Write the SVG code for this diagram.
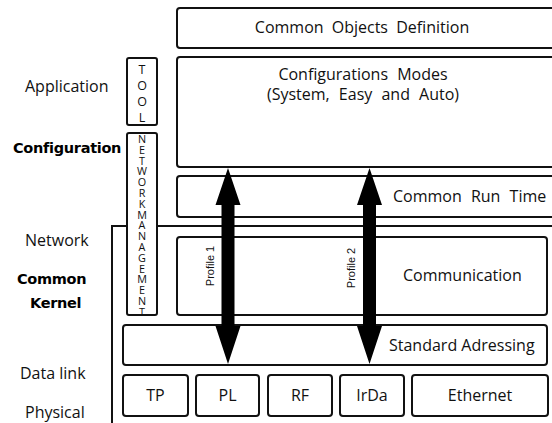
<svg xmlns="http://www.w3.org/2000/svg" width="552" height="423" viewBox="0 0 552 423">
<style>
.box{fill:#fff;stroke:#111;stroke-width:2}
.t{font-family:"Open Sans","Liberation Sans",sans-serif;font-size:16px;fill:#111}
.c{text-anchor:middle}
.b{font-family:"DejaVu Sans","Liberation Sans",sans-serif;font-weight:bold;font-size:14.5px;fill:#000;letter-spacing:-0.3px}
.v{font-family:"Open Sans","Liberation Sans",sans-serif;fill:#111;writing-mode:vertical-rl;text-orientation:upright}
.p{font-family:"Liberation Sans",Arial,sans-serif;font-size:11px;fill:#111;text-anchor:middle}
.arr{fill:#000}
</style>
<rect width="552" height="423" fill="#fff"/>
<g id="labels">
<text class="t" x="25" y="92">Application</text>
<text class="b" x="13" y="153">Configuration</text>
<text class="t" x="25" y="246">Network</text>
<text class="b" x="17" y="284">Common</text>
<text class="b" x="30" y="308">Kernel</text>
<text class="t" x="20" y="379">Data link</text>
<text class="t" x="25" y="418">Physical</text>
</g>
<g id="kernel-frame">
<path d="M112,423 V226 H127 M157,226 H560" fill="none" stroke="#111" stroke-width="2"/>
</g>
<g id="common-objects">
<rect class="box" x="177" y="8" width="390" height="40" rx="3"/>
<text class="t c" x="362" y="33" word-spacing="4">Common Objects Definition</text>
</g>
<g id="config-modes">
<rect class="box" x="177" y="57" width="390" height="110" rx="3"/>
<text class="t c" x="363" y="80" font-size="15" word-spacing="5">Configurations Modes</text>
<text class="t c" x="363" y="100" font-size="15" word-spacing="5">(System, Easy and Auto)</text>
</g>
<g id="common-run-time">
<rect class="box" x="177" y="176" width="390" height="41" rx="3"/>
<text class="t" x="393" y="202" word-spacing="5">Common Run Time</text>
</g>
<g id="tool">
<rect class="box" x="127" y="58" width="30" height="67" rx="2"/>
<text class="v" x="142" y="61" font-size="12.5" letter-spacing="-1">TOOL</text>
</g>
<g id="network-management">
<rect class="box" x="127" y="133" width="30" height="182" rx="2"/>
<text class="v" x="142" y="131" font-size="10.8" letter-spacing="-4.2">NETWORKMANAGEMENT</text>
</g>
<g id="communication">
<rect class="box" x="177" y="237" width="370" height="78" rx="3"/>
<text class="t" x="403" y="281" font-size="17.5">Communication</text>
</g>
<g id="standard-addressing">
<rect class="box" x="123" y="325" width="424" height="40" rx="3"/>
<text class="t" x="389" y="351" font-size="17.5">Standard Adressing</text>
</g>
<g id="tp"><rect class="box" x="123" y="375" width="65" height="41" rx="3"/><text class="t c" x="155.5" y="401">TP</text></g>
<g id="pl"><rect class="box" x="196" y="375" width="63" height="41" rx="3"/><text class="t c" x="227.5" y="401">PL</text></g>
<g id="rf"><rect class="box" x="268" y="375" width="64" height="41" rx="3"/><text class="t c" x="300" y="401">RF</text></g>
<g id="irda"><rect class="box" x="340" y="375" width="64" height="41" rx="3"/><text class="t c" x="372" y="401">IrDa</text></g>
<g id="ethernet"><rect class="box" x="412" y="375" width="136" height="41" rx="3"/><text class="t c" x="480" y="401">Ethernet</text></g>
<g id="connectors">
<path class="arr" d="M228,168 L240.5,205 L234.5,205 L234.5,326 L240.5,326 L228,364 L215.5,326 L221.5,326 L221.5,205 L215.5,205 Z"/>
<path class="arr" d="M369.5,168 L382,205 L376,205 L376,326 L382,326 L369.5,364 L357,326 L363,326 L363,205 L357,205 Z"/>
<text class="p" transform="translate(214,266) rotate(-90)">Profile 1</text>
<text class="p" transform="translate(355,268) rotate(-90)">Profile 2</text>
</g>
</svg>
